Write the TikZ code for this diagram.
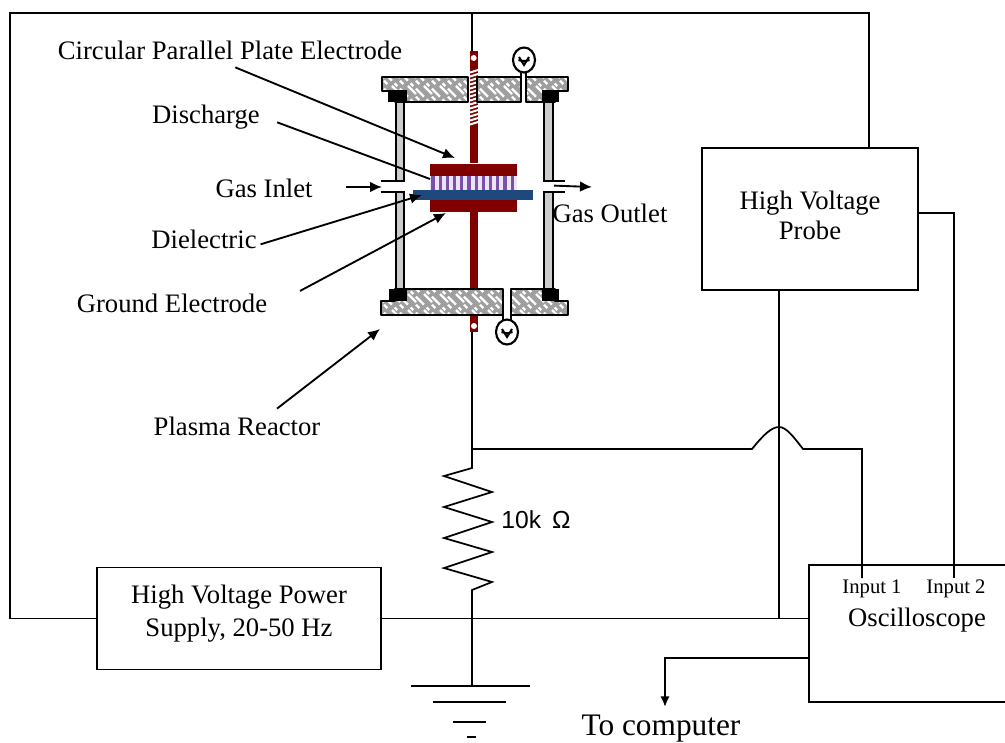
\documentclass[tikz,border=0pt]{standalone}
\usepackage{fontspec}
\setmainfont{Liberation Serif}
\setsansfont{Liberation Sans}
\usetikzlibrary{arrows.meta,patterns}
\pgfdeclarepatternformonly{weave}{\pgfqpoint{-1pt}{-1pt}}{\pgfqpoint{13pt}{13pt}}{\pgfqpoint{12pt}{12pt}}{
\pgfsetlinewidth{1.7pt}
\pgfpathmoveto{\pgfqpoint{0pt}{10pt}}\pgfpathlineto{\pgfqpoint{6pt}{4pt}}
\pgfpathmoveto{\pgfqpoint{6pt}{12pt}}\pgfpathlineto{\pgfqpoint{12pt}{6pt}}
\pgfpathmoveto{\pgfqpoint{0pt}{4pt}}\pgfpathlineto{\pgfqpoint{2.5pt}{1.5pt}}
\pgfpathmoveto{\pgfqpoint{8pt}{2pt}}\pgfpathlineto{\pgfqpoint{10pt}{0pt}}
\pgfusepath{stroke}}
\definecolor{rodred}{RGB}{128,0,0}
\definecolor{plateblue}{RGB}{31,73,125}
\definecolor{glowpurple}{RGB}{122,80,170}
\definecolor{glowpale}{RGB}{236,228,245}
\tikzset{
 wire/.style={line width=1.3pt},
 ptr/.style={line width=1.4pt,-{Latex[length=9pt,width=8pt]}},
 box/.style={draw,line width=1.4pt,align=center,font=\fontsize{20}{25}\selectfont},
 lbl/.style={inner sep=0pt,outer sep=0pt,font=\fontsize{20}{25}\selectfont},
 inlbl/.style={inner sep=0pt,outer sep=0pt,font=\fontsize{15.5}{18}\selectfont},
 flange/.style={draw,line width=1.6pt,line join=round,preaction={fill=gray!75},pattern=weave,pattern color=white},
 wallpart/.style={draw,line width=1.5pt,fill=black!20},
 block/.style={fill=black},
 lip/.style={line width=1.5pt}
}
\begin{document}
\begin{tikzpicture}[x=.75pt,y=-.75pt]
\useasboundingbox (0,0) rectangle (1005,742);
\clip (0,0) rectangle (1005,742);
% boxes
\node[box,minimum width=213pt,minimum height=76.5pt,text depth=12pt] (hvps) at (239,618.5) {High Voltage Power\\Supply, 20-50 Hz};
\node[box,minimum width=162pt,minimum height=106.5pt,font=\fontsize{20}{22.5}\selectfont,text depth=6pt] (probe) at (810,219) {High Voltage\\Probe};
\node[box,minimum width=152pt,minimum height=102.75pt] (scope) at (910.5,633.5) {};
\node[inlbl] (inputA) at (872,589) {Input 1};
\node[inlbl] (inputB) at (956,589) {Input 2};
\node[lbl] (scopeName) at (917,620) {Oscilloscope};
% wires
\coordinate (frameBL) at (10,13);
\coordinate (probeIn) at (869,148);
\coordinate (rodTop) at (472,13);
\coordinate (rodTopEnd) at (472,51);
\coordinate (rodBot) at (472,332);
\coordinate (tapA) at (472,449);
\coordinate (rTop) at (472,468);
\coordinate (rBot) at (472,590);
\coordinate (gnd) at (472,686);
\coordinate (probeOut) at (779,290);
\coordinate (probeJoin) at (779,618.5);
\coordinate (scopeGnd) at (809,618.5);
\coordinate (scopeOut) at (809,658);
\coordinate (outTip) at (665,707);
\coordinate (inA) at (862,578);
\coordinate (inB) at (954,578);
\coordinate (probeSide) at (918,213);
\draw[wire] (hvps.west) -| (frameBL) -| (probeIn);
\draw[wire] (rodTop)--(rodTopEnd);
\draw[wire] (rodBot)--(tapA)--(rTop)--(444,476)--(492,492)--(444,507)--(492,522)--(444,538)--(492,552)--(444,568)--(492,582)--(rBot)--(gnd);
\draw[wire] (hvps.east)--(scopeGnd);
\draw[wire] (probeOut)--(probeJoin);
\draw[wire] (probeSide) -| (inB);
\draw[wire] (tapA)--(752,449) .. controls (764,434) and (772,427) .. (779,427) .. controls (786,427) and (793,436) .. (803,449) -| (inA);
\draw[wire,line width=1.5pt,-{Latex[length=8pt,width=7pt]}] (scopeOut) -| (outTip);
\node[lbl,font=\fontsize{23.5}{25}\selectfont] (toComp) at (661,729) {To computer};
\node[font=\sffamily\fontsize{18.5}{20}\selectfont,inner sep=0pt] (rLabel) at (536,520) {10k\ \,Ω};
% ground
\draw[wire] (411,686)--(530,686);
\draw[wire] (433,702)--(506,702);
\draw[wire] (453,722)--(486,722);
\draw[wire] (467,737)--(476,737);
% electrodes
\fill[rodred] (470,51) rectangle (478,163);
\fill[white] (473.7,58) circle (3);
\foreach \y in {70,74,...,122}
  \draw[white,line width=1.5pt] (470,\y+2.5)--(478,\y);
\fill[rodred] (430,164) rectangle (517,176);
\fill[glowpale] (430,176) rectangle (517,190);
\foreach \x in {433,440.2,...,516}
  \draw[glowpurple,line width=2.4pt] (\x,176)--(\x,190);
\fill[rodred] (430,200) rectangle (517,212);
\fill[rodred] (470,212) rectangle (478,290);
\fill[plateblue] (413,190) rectangle (533,200);
\fill[rodred] (470,314) rectangle (478,332);
\fill[white] (474,326) circle (3);
% chamber
\draw[wallpart] (396,102) rectangle (404,181);
\draw[wallpart] (396,192) rectangle (404,289);
\draw[wallpart] (544,102) rectangle (553,181);
\draw[wallpart] (544,192) rectangle (553,289);
\draw[lip] (381,181)--(404,181) (381,192)--(404,192);
\draw[lip] (544,181)--(565,181) (544,192)--(565,192);
\draw[flange] (382,77)--(468,77)--(468,102)--(395,102)--(395,91)--(382,91)--cycle;
\draw[flange] (477,77)--(521,77)--(521,102)--(477,102)--cycle;
\draw[flange] (526,77)--(568,77)--(568,91)--(555,91)--(555,102)--(526,102)--cycle;
\draw[flange] (381,301)--(395,301)--(395,289)--(503,289)--(503,315)--(381,315)--cycle;
\draw[flange] (511,289)--(555,289)--(555,301)--(568,301)--(568,315)--(511,315)--cycle;
\fill[block] (388,90) rectangle (407,102);
\fill[block] (542,90) rectangle (559,102);
\fill[block] (389,289) rectangle (407,301);
\fill[block] (542,289) rectangle (559,301);
% gauges
\draw[line width=1.5pt] (521,70)--(521,102) (526,70)--(526,102);
\draw[line width=1.5pt] (503,315)--(503,322) (511,315)--(511,322);
\foreach \x/\y in {524/60,507/332}{
  \draw[line width=1.6pt,fill=white] (\x,\y) ellipse [x radius=11,y radius=12.5];
  \draw[line width=1.5pt] (\x-5,\y-3)--(\x,\y+5)--(\x+5,\y-3) (\x-5.5,\y)--(\x-2,\y+1)--(\x+2,\y+1)--(\x+5.5,\y);
}
% labels
\node[lbl] (circLabel) at (230,50) {Circular Parallel Plate Electrode};
\node[lbl] (dischLabel) at (206,117) {Discharge};
\node[lbl] (inletLabel) at (264,188) {Gas Inlet};
\node[lbl] (dielLabel) at (204,239) {Dielectric};
\node[lbl] (groundLabel) at (172,303) {Ground Electrode};
\node[lbl] (reactorLabel) at (237,426) {Plasma Reactor};
\node[lbl] (outletLabel) at (610,213) {Gas Outlet};
\coordinate (circTip) at (455,158);
\coordinate (dischTip) at (430,179);
\coordinate (inletTip) at (382,187);
\coordinate (dielTip) at (422,195);
\coordinate (groundTip) at (446,213);
\coordinate (reactorTip) at (380,329);
\coordinate (outletTip) at (592,187);
\draw[ptr] ([xshift=4pt,yshift=-6pt]circLabel.south) -- (circTip);
\draw[line width=1.4pt] ([xshift=13pt,yshift=-4pt]dischLabel.east) -- (dischTip);
\draw[ptr] ([xshift=25pt,yshift=.75pt]inletLabel.east) -- (inletTip);
\draw[ptr] ([xshift=3pt,yshift=-4pt]dielLabel.east) -- (dielTip);
\draw[ptr] ([xshift=96pt,yshift=2pt]groundLabel.north) -- (groundTip);
\draw[ptr] ([xshift=30pt,yshift=6pt]reactorLabel.north) -- (reactorTip);
\draw[ptr] ([xshift=-42pt,yshift=13.5pt]outletLabel.north) -- (outletTip);
\end{tikzpicture}
\end{document}
